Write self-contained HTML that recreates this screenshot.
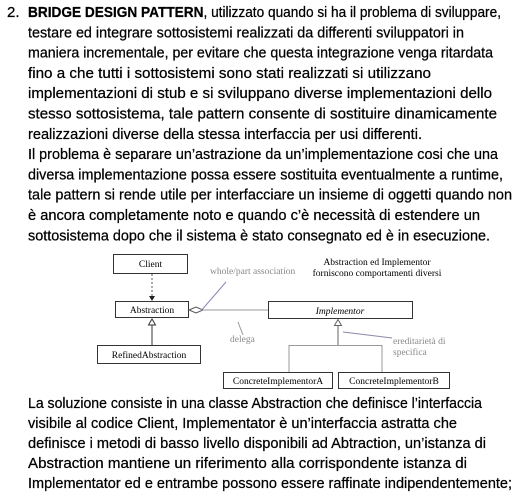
<!DOCTYPE html>
<html><head><meta charset="utf-8"><style>
html,body{margin:0;padding:0;background:#fff;}
svg{display:block;}
.t{font-family:"Liberation Sans",sans-serif;font-size:15px;fill:#000;stroke:#000;stroke-width:0.25;}
.d{font-family:"Liberation Serif",serif;font-size:9.5px;fill:#000;}
.g{font-family:"Liberation Serif",serif;font-size:9.5px;fill:#888;}
</style></head><body>
<svg width="520" height="494" viewBox="0 0 520 494" xmlns="http://www.w3.org/2000/svg">
<text class="t" x="7" y="17">2.</text>
<text class="t" x="28" y="17" textLength="473" lengthAdjust="spacingAndGlyphs"><tspan font-weight="bold">BRIDGE DESIGN PATTERN</tspan>, utilizzato quando si ha il problema di sviluppare,</text>
<text class="t" x="28" y="37.3" textLength="436" lengthAdjust="spacingAndGlyphs">testare ed integrare sottosistemi realizzati da differenti sviluppatori in</text>
<text class="t" x="28" y="57.6" textLength="465" lengthAdjust="spacingAndGlyphs">maniera incrementale, per evitare che questa integrazione venga ritardata</text>
<text class="t" x="28" y="77.9" textLength="403" lengthAdjust="spacingAndGlyphs">fino a che tutti i sottosistemi sono stati realizzati si utilizzano</text>
<text class="t" x="28" y="98.2" textLength="464" lengthAdjust="spacingAndGlyphs">implementazioni di stub e si sviluppano diverse implementazioni dello</text>
<text class="t" x="28" y="118.5" textLength="469" lengthAdjust="spacingAndGlyphs">stesso sottosistema, tale pattern consente di sostituire dinamicamente</text>
<text class="t" x="28" y="138.8" textLength="394" lengthAdjust="spacingAndGlyphs">realizzazioni diverse della stessa interfaccia per usi differenti.</text>
<text class="t" x="28" y="159.1" textLength="470" lengthAdjust="spacingAndGlyphs">Il problema è separare un’astrazione da un’implementazione cosi che una</text>
<text class="t" x="28" y="179.4" textLength="475" lengthAdjust="spacingAndGlyphs">diversa implementazione possa essere sostituita eventualmente a runtime,</text>
<text class="t" x="28" y="199.7" textLength="484" lengthAdjust="spacingAndGlyphs">tale pattern si rende utile per interfacciare un insieme di oggetti quando non</text>
<text class="t" x="28" y="220" textLength="452" lengthAdjust="spacingAndGlyphs">è ancora completamente noto e quando c’è necessità di estendere un</text>
<text class="t" x="28" y="240.3" textLength="462" lengthAdjust="spacingAndGlyphs">sottosistema dopo che il sistema è stato consegnato ed è in esecuzione.</text>

<g fill="#fff" stroke="#333" stroke-width="1">
<rect x="113.5" y="254.5" width="74" height="19"/>
<rect x="115.5" y="301.5" width="73" height="16"/>
<rect x="268.5" y="301.5" width="144" height="17"/>
<rect x="97.5" y="345.5" width="103" height="18"/>
<rect x="223.5" y="372.5" width="109" height="16"/>
<rect x="338.5" y="372.5" width="111" height="16"/>
</g>
<line x1="152" y1="274" x2="152" y2="298" stroke="#555" stroke-dasharray="2,2"/>
<path d="M149,296 L155,296 L152,301 Z" fill="#222"/>
<line x1="152" y1="324" x2="152" y2="345" stroke="#333"/>
<path d="M148.5,325 L155.5,325 L152,319 Z" fill="#fff" stroke="#333"/>
<path d="M189,310 L196,307 L203,310 L196,313 Z" fill="#fff" stroke="#555"/>
<line x1="203" y1="310" x2="268" y2="310" stroke="#999"/>
<line x1="200" y1="312" x2="226" y2="282" stroke="#8888bb"/>
<line x1="238" y1="322" x2="243" y2="335" stroke="#999"/>
<line x1="338" y1="325" x2="338" y2="345" stroke="#666"/>
<path d="M334.5,325.5 L341.5,325.5 L338,319.5 Z" fill="#fff" stroke="#666"/>
<path d="M289,372 L289,345.5 L382,345.5 L382,372" fill="none" stroke="#999"/>
<line x1="343" y1="332" x2="392" y2="338" stroke="#8888aa"/>

<text class="d" x="150.5" y="267" text-anchor="middle">Client</text>
<text class="d" x="152" y="313" text-anchor="middle">Abstraction</text>
<text class="d" x="340" y="314" text-anchor="middle" font-style="italic">Implementor</text>
<text class="d" x="149" y="358" text-anchor="middle">RefinedAbstraction</text>
<text class="d" x="278" y="384" text-anchor="middle">ConcreteImplementorA</text>
<text class="d" x="394" y="384" text-anchor="middle">ConcreteImplementorB</text>
<text class="g" x="210" y="274">whole/part association</text>
<text class="g" x="230" y="342">delega</text>
<text class="g" x="393" y="344">ereditarietà di</text>
<text class="g" x="393" y="355">specifica</text>
<text class="d" x="377" y="265" text-anchor="middle">Abstraction ed Implementor</text>
<text class="d" x="377" y="276" text-anchor="middle">forniscono comportamenti diversi</text>

<text class="t" x="28" y="408" textLength="454" lengthAdjust="spacingAndGlyphs">La soluzione consiste in una classe Abstraction che definisce l’interfaccia</text>
<text class="t" x="28" y="428" textLength="429" lengthAdjust="spacingAndGlyphs">visibile al codice Client, Implementator è un’interfaccia astratta che</text>
<text class="t" x="28" y="448" textLength="458" lengthAdjust="spacingAndGlyphs">definisce i metodi di basso livello disponibili ad Abtraction, un’istanza di</text>
<text class="t" x="28" y="468" textLength="439" lengthAdjust="spacingAndGlyphs">Abstraction mantiene un riferimento alla corrispondente istanza di</text>
<text class="t" x="28" y="488" textLength="484" lengthAdjust="spacingAndGlyphs">Implementator ed e entrambe possono essere raffinate indipendentemente;</text>
</svg>
</body></html>
